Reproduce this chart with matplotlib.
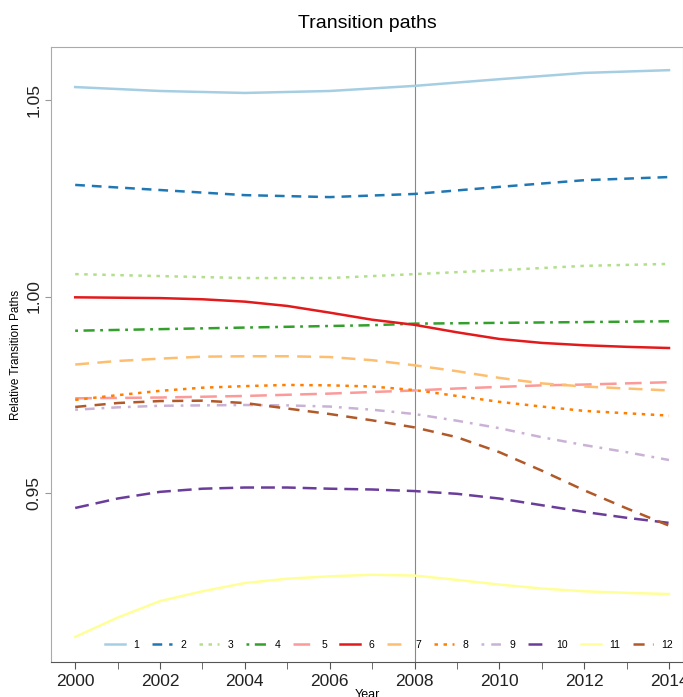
import matplotlib
matplotlib.use("Agg")
import matplotlib.pyplot as plt

plt.rcParams['lines.scale_dashes'] = False
plt.rcParams['font.family'] = ['Liberation Sans', 'DejaVu Sans']

# upper three curves are read every second year, the rest yearly
years_even = [2000, 2002, 2004, 2006, 2008, 2010, 2012, 2014]
years = list(range(2000, 2015))
names = ['1', '2', '3', '4', '5', '6', '7', '8', '9', '10', '11', '12']

s1 = [1.0533, 1.0523, 1.0518, 1.0523, 1.0536, 1.0553, 1.0569, 1.0576]
s2 = [1.0284, 1.0271, 1.0258, 1.0253, 1.0261, 1.0279, 1.0296, 1.0304]
s3 = [1.0057, 1.0052, 1.0047, 1.0047, 1.0057, 1.0067, 1.0078, 1.0083]
s4 = [0.9913, 0.9915, 0.9917, 0.9919, 0.9921, 0.9923, 0.9925, 0.9927, 0.9931,
      0.9932, 0.9933, 0.9934, 0.9935, 0.9936, 0.9937]
s5 = [0.9741, 0.9742, 0.9743, 0.9745, 0.9747, 0.9750, 0.9753, 0.9757, 0.9761,
      0.9766, 0.9770, 0.9774, 0.9776, 0.9779, 0.9782]
s6 = [0.9998, 0.9997, 0.9996, 0.9993, 0.9987, 0.9976, 0.9959, 0.9941, 0.9928,
      0.9909, 0.9892, 0.9882, 0.9876, 0.9872, 0.9869]
s7 = [0.9827, 0.9836, 0.9842, 0.9847, 0.9848, 0.9848, 0.9846, 0.9838, 0.9825,
      0.9810, 0.9793, 0.9779, 0.9771, 0.9766, 0.9761]
s8 = [0.9737, 0.9749, 0.9760, 0.9768, 0.9772, 0.9775, 0.9774, 0.9771, 0.9762,
      0.9747, 0.9732, 0.9720, 0.9709, 0.9703, 0.9697]
s9 = [0.9712, 0.9718, 0.9722, 0.9723, 0.9724, 0.9723, 0.9720, 0.9712, 0.9701,
      0.9684, 0.9665, 0.9642, 0.9622, 0.9604, 0.9584]
s10 = [0.9462, 0.9486, 0.9503, 0.9511, 0.9514, 0.9514, 0.9511, 0.9509, 0.9505,
       0.9498, 0.9486, 0.9469, 0.9452, 0.9437, 0.9424]
s11 = [0.9134, 0.9183, 0.9225, 0.9250, 0.9271, 0.9282, 0.9288, 0.9292, 0.9290,
       0.9279, 0.9267, 0.9257, 0.9250, 0.9246, 0.9243]
s12 = [0.9719, 0.9729, 0.9734, 0.9735, 0.9729, 0.9715, 0.9701, 0.9685, 0.9667,
       0.9642, 0.9604, 0.9557, 0.9507, 0.9461, 0.9417]
series = [s1, s2, s3, s4, s5, s6, s7, s8, s9, s10, s11, s12]

colors = ['#a6cee3', '#1f78b4', '#b2df8a', '#33a02c', '#fb9a99', '#e31a1c',
          '#fdbf6f', '#ff7f00', '#cab2d6', '#6a3d9a', '#ffff99', '#b15928']
dashes = [None, (7, 5), (2.5, 4), (2, 4, 8, 4), (12, 6), None,
          (10, 6), (2.5, 4), (2, 5, 7, 5), (10, 5), None, (8, 6)]

fig = plt.figure(figsize=(6.83, 6.97), dpi=100)
ax = fig.add_axes([0.0747, 0.0502, 0.9253, 0.8824])

for name, vals, c, d in zip(names, series, colors, dashes):
    xs = years if len(vals) == len(years) else years_even
    line, = ax.plot(xs, vals, color=c, lw=1.8, label=name)
    if d is not None:
        line.set_dashes(d)

ax.axvline(2008, color='#888888', lw=0.8, zorder=0)

ax.set_xlim(1999.43, 2014.33)
ax.set_ylim(0.907, 1.0635)
ax.set_xticks(range(2000, 2015, 2))
ax.set_xticks(range(2001, 2015, 2), minor=True)
ax.set_yticks([0.95, 1.00, 1.05])
ax.set_yticklabels(['0.95', '1.00', '1.05'], rotation=90, va='center')
ax.tick_params(axis='x', labelsize=12.5, color='#555555', length=5, labelcolor='#222222')
ax.tick_params(axis='x', which='minor', color='#555555', length=5)
ax.tick_params(axis='y', labelsize=12.5, color='#999999', length=4, labelcolor='#222222', pad=3)

for side in ['left', 'top', 'right']:
    ax.spines[side].set_color('#aaaaaa')
ax.spines['bottom'].set_color('#555555')

ax.set_title("Transition paths", fontsize=14, pad=14)
ax.set_xlabel("Year", fontsize=9, labelpad=0)
ax.set_ylabel("Relative Transition Paths", fontsize=8.5, labelpad=3)

ax.legend(loc='lower center', bbox_to_anchor=(0.535, 0.005), ncol=12, frameon=False,
          fontsize=7.5, handlelength=1.9, columnspacing=1.25, handletextpad=0.8)

fig.savefig("out.png", dpi=100)
